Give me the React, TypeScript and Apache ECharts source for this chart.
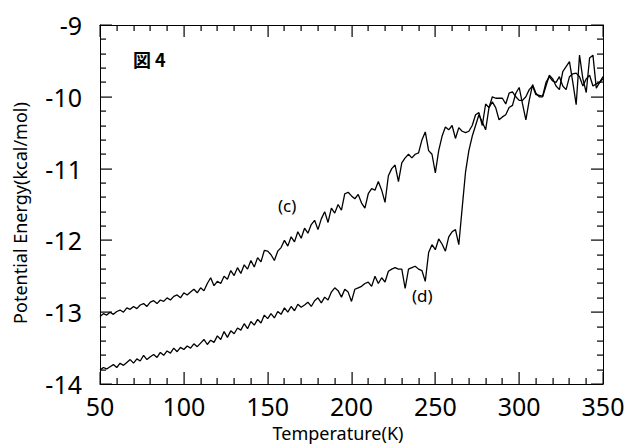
import React, { useEffect, useRef } from "react";
import * as echarts from "echarts";

const temps: number[] = [];
for (let t = 50; t <= 350; t += 2) temps.push(t);

const seriesC: number[] = [
  -13.06, -13.02, -13.04, -13.0, -13.03, -12.99, -12.97, -13.0, -12.94, -12.96,
  -12.92, -12.95, -12.9, -12.88, -12.92, -12.86, -12.84, -12.88, -12.83, -12.85,
  -12.8, -12.83, -12.78, -12.76, -12.8, -12.73, -12.76, -12.72, -12.68, -12.73,
  -12.66, -12.7, -12.6, -12.52, -12.63, -12.57, -12.6, -12.5, -12.54, -12.42,
  -12.49, -12.38, -12.46, -12.34, -12.4, -12.28, -12.37, -12.24, -12.3, -12.14,
  -12.15, -12.2, -12.28, -12.15, -12.1, -12.0, -12.08, -11.95, -12.02, -11.88,
  -11.97, -11.83, -11.9, -11.78, -11.72, -11.85, -11.7, -11.6, -11.75, -11.55,
  -11.62, -11.5, -11.58, -11.35, -11.33, -11.38, -11.42, -11.36, -11.48, -11.55,
  -11.35, -11.28, -11.3, -11.18, -11.3, -11.47, -11.1, -11.0, -10.95, -11.18,
  -10.92, -10.85, -10.8, -10.85, -10.8, -10.78, -10.6, -10.49, -10.75, -10.8,
  -11.06, -10.75, -10.55, -10.42, -10.46, -10.4, -10.58, -10.43, -10.48, -10.5,
  -10.48, -10.4, -10.25, -10.22, -10.4, -10.1, -10.15, -10.0, -10.02, -10.02,
  -10.02, -10.1, -9.95, -9.93, -10.0, -10.05, -10.05, -10.0, -9.9, -9.85,
  -9.97, -9.98, -9.99, -9.8, -9.72, -9.78, -9.8, -9.72, -9.85, -9.9,
  -9.72, -9.68, -9.67, -9.72, -9.85, -9.75, -9.7, -9.85, -9.82, -9.8,
  -9.75,
];

const seriesD: number[] = [
  -13.81, -13.77, -13.79, -13.76, -13.73, -13.77, -13.71, -13.74, -13.7, -13.66,
  -13.71, -13.65, -13.68, -13.6, -13.66, -13.62, -13.59, -13.63, -13.56, -13.6,
  -13.54, -13.57, -13.5, -13.55, -13.49, -13.52, -13.47, -13.5, -13.44, -13.48,
  -13.43, -13.38, -13.45, -13.39, -13.42, -13.33, -13.38, -13.27, -13.35, -13.26,
  -13.3, -13.22, -13.25, -13.16, -13.23, -13.13, -13.18, -13.1, -13.15, -13.04,
  -13.09, -13.02, -13.08, -12.99, -13.03, -12.94, -13.0, -12.92, -12.98, -12.89,
  -12.93, -12.9, -12.86, -12.92, -12.84, -12.8, -12.87, -12.79, -12.83, -12.72,
  -12.66, -12.7, -12.79, -12.68, -12.72, -12.85, -12.68, -12.66, -12.64, -12.6,
  -12.58, -12.64, -12.5, -12.6, -12.52, -12.58, -12.43, -12.4, -12.38, -12.4,
  -12.4, -12.67, -12.4, -12.38, -12.36, -12.4, -12.42, -12.57, -12.17, -12.06,
  -12.13, -11.98, -12.05, -12.15, -11.95, -11.88, -11.85, -12.06, -11.55, -11.05,
  -10.75, -10.55, -10.4, -10.25, -10.35, -10.46, -10.15, -10.07, -10.15, -10.32,
  -10.28, -10.25, -10.15, -10.12, -9.95, -9.87, -10.1, -10.32, -10.05, -9.83,
  -9.95, -10.0, -10.0, -9.85, -9.7, -9.75, -9.85, -9.9, -9.65, -9.58,
  -9.51, -9.8, -10.11, -9.42, -9.75, -9.94, -9.46, -9.42, -9.88, -9.8,
  -9.72,
];

const xTicks = [50, 100, 150, 200, 250, 300, 350];
const yTicks = [-14, -13, -12, -11, -10, -9];
const MINOR_SPLIT = 5;

const FONT = "'Noto Sans', 'Liberation Sans', sans-serif";

// [value, isMajor] pairs for the tick marks, derived from the tick label lists
function tickData(ticks: number[]): number[][] {
  const out: number[][] = [];
  for (let i = 0; i < ticks.length; i++) {
    out.push([ticks[i], 1]);
    if (i < ticks.length - 1) {
      for (let k = 1; k < MINOR_SPLIT; k++) {
        out.push([ticks[i] + ((ticks[i + 1] - ticks[i]) * k) / MINOR_SPLIT, 0]);
      }
    }
  }
  return out;
}

function makeAxis(kind: "x" | "y", position: string, labels: boolean) {
  const ticks = kind === "x" ? xTicks : yTicks;
  return {
    type: "value",
    min: ticks[0],
    max: ticks[ticks.length - 1],
    interval: kind === "x" ? 50 : 1,
    position,
    axisLine: { show: true, onZero: false, lineStyle: { color: "#000", width: 1 } },
    axisTick: { show: false },
    minorTick: { show: false },
    splitLine: { show: false },
    axisLabel: labels
      ? { show: true, color: "#000", fontSize: 25, fontFamily: FONT, margin: kind === "x" ? 9 : 18 }
      : { show: false },
  };
}

export default function App() {
  const ref = useRef<HTMLDivElement>(null);
  useEffect(() => {
    if (!ref.current) return;
    const chart = echarts.init(ref.current, undefined, { renderer: "svg" });
    const xMin = xTicks[0];
    const xMax = xTicks[xTicks.length - 1];
    const yMin = yTicks[0];
    const yMax = yTicks[yTicks.length - 1];
    chart.setOption({
      animation: false,
      backgroundColor: "#fff",
      grid: { left: 100, right: 26, top: 25, bottom: 61 },
      xAxis: [makeAxis("x", "bottom", true), makeAxis("x", "top", false)],
      yAxis: [makeAxis("y", "left", true), makeAxis("y", "right", false)],
      series: [
        {
          name: "(c)",
          type: "line",
          data: temps.map((t, i) => [t, seriesC[i]]),
          showSymbol: false,
          lineStyle: { color: "#000", width: 1.3 },
        },
        {
          name: "(d)",
          type: "line",
          data: temps.map((t, i) => [t, seriesD[i]]),
          showSymbol: false,
          lineStyle: { color: "#000", width: 1.3 },
        },
        {
          name: "xticks",
          type: "custom",
          silent: true,
          clip: false,
          z: 10,
          data: tickData(xTicks),
          renderItem: (params: any, api: any) => {
            const v = api.value(0);
            const len = api.value(1) ? 12 : 6;
            const b = api.coord([v, yMin]);
            const t = api.coord([v, yMax]);
            const x = Math.round(b[0]) - 0.5;
            return {
              type: "group",
              children: [
                { type: "rect", shape: { x, y: b[1] - len, width: 1.2, height: len }, style: { fill: "#000" } },
                { type: "rect", shape: { x, y: t[1], width: 1.2, height: len }, style: { fill: "#000" } },
              ],
            };
          },
        },
        {
          name: "yticks",
          type: "custom",
          silent: true,
          clip: false,
          z: 10,
          encode: { x: 1, y: 0 },
          data: tickData(yTicks).map((d) => [d[0], d[1]]),
          renderItem: (params: any, api: any) => {
            const v = api.value(0);
            const len = api.value(1) ? 12 : 6;
            const l = api.coord([xMin, v]);
            const r = api.coord([xMax, v]);
            const y = Math.round(l[1]) - 0.5;
            return {
              type: "group",
              children: [
                { type: "rect", shape: { x: l[0], y, width: len, height: 1.2 }, style: { fill: "#000" } },
                { type: "rect", shape: { x: r[0] - len, y, width: len, height: 1.2 }, style: { fill: "#000" } },
              ],
            };
          },
        },
      ],
      graphic: [
        {
          type: "text",
          left: 133,
          top: 50,
          style: { text: "図 4", font: `bold 18px 'Noto Sans CJK JP', sans-serif`, fill: "#000" },
        },
        { type: "text", left: 278, top: 197, style: { text: "(c)", font: `17px ${FONT}`, fill: "#000" } },
        { type: "text", left: 412, top: 287, style: { text: "(d)", font: `17px ${FONT}`, fill: "#000" } },
        {
          type: "text",
          x: 338,
          y: 433,
          style: { text: "Temperature(K)", font: `18px ${FONT}`, fill: "#000", align: "center", verticalAlign: "middle" },
        },
        {
          type: "text",
          x: 20,
          y: 213,
          rotation: Math.PI / 2,
          style: {
            text: "Potential Energy(kcal/mol)",
            font: `18px ${FONT}`,
            fill: "#000",
            align: "center",
            verticalAlign: "middle",
          },
        },
      ],
    });
    return () => chart.dispose();
  }, []);
  return (
    <div
      ref={ref}
      style={{ width: 629, height: 445, position: "absolute", left: 0, top: 0, background: "#fff" }}
    />
  );
}
